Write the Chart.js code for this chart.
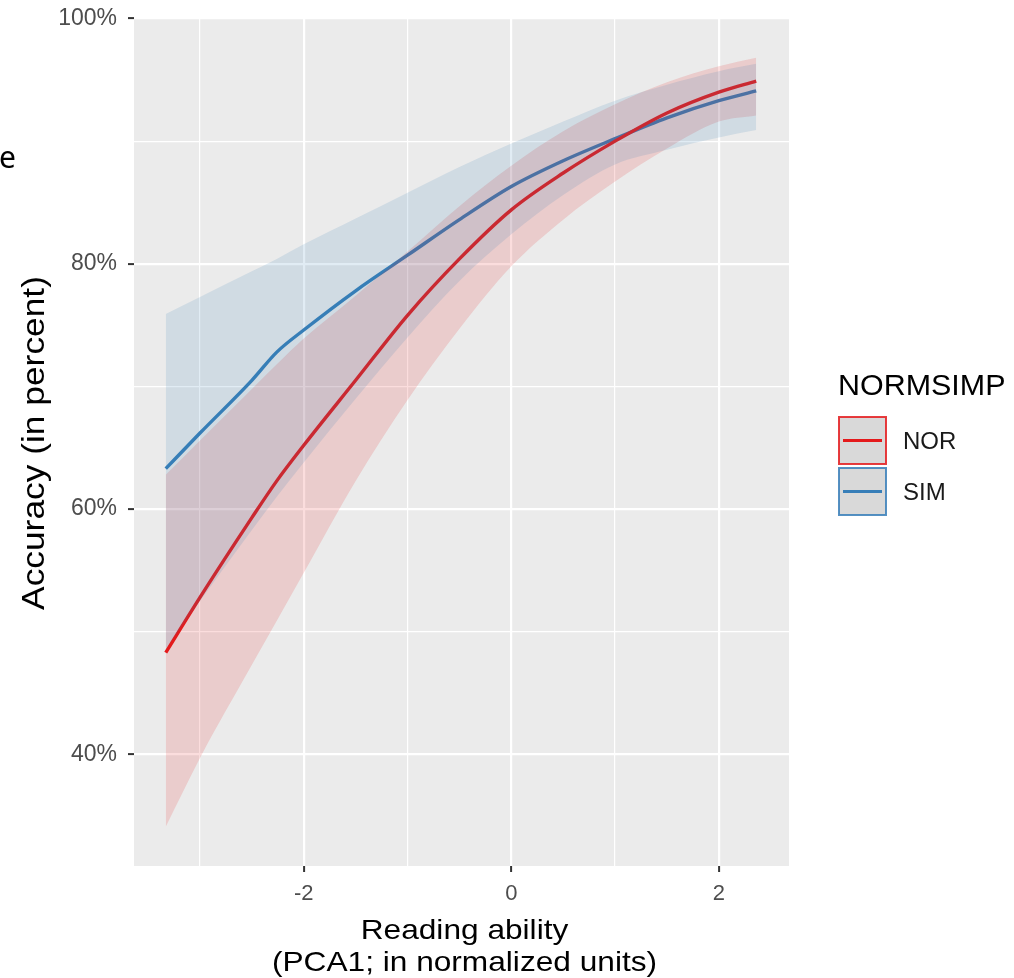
<!DOCTYPE html>
<html>
<head>
<meta charset="utf-8">
<title>Accuracy by reading ability</title>
<script src="https://cdn.jsdelivr.net/npm/chart.js@4/dist/chart.umd.min.js"></script>
<style>
  html, body { margin: 0; padding: 0; background: #fff; }
  canvas { display: block; }
</style>
</head>
<body>
<canvas id="chart" width="1014" height="978"></canvas>
<script>
const readingAbility = [-3.33, -3, -2.5, -2.26, -2, -1.5, -1, -0.5, 0, 0.5, 1, 1.5, 2, 2.36];

// NOR: fitted accuracy (%) and confidence band
const norFit   = [48.3, 52.8, 59.3, 62.3, 65.2, 70.5, 75.8, 80.4, 84.4, 87.4, 90.0, 92.3, 94.0, 94.9];
const norLower = [34.1, 39.7, 47.3, 50.9, 54.8, 62.3, 68.9, 74.7, 79.8, 83.6, 86.7, 89.4, 91.6, 92.1];
const norUpper = [62.8, 65.6, 69.8, 71.8, 73.9, 77.4, 81.0, 84.7, 88.0, 90.8, 93.0, 94.8, 96.1, 96.8];

// SIM: fitted accuracy (%) and confidence band
const simFit   = [63.3, 66.2, 70.5, 72.8, 74.6, 77.8, 80.7, 83.6, 86.3, 88.4, 90.2, 91.9, 93.3, 94.1];
const simLower = [48.6, 52.5, 58.3, 61.0, 63.8, 69.0, 74.0, 78.6, 82.4, 85.6, 88.1, 89.3, 90.3, 90.9];
const simUpper = [75.9, 77.3, 79.4, 80.4, 81.6, 83.7, 85.8, 87.9, 89.8, 91.6, 93.3, 94.6, 95.7, 96.3];

// ticks (labelled = major, blank = minor grid line)
const xTickValues = [-3, -2, -1, 0, 1, 2];
const xTickLabels = ['', '-2', '', '0', '', '2'];
const yTickValues = [40, 50, 60, 70, 80, 90, 100];
const yTickLabels = ['40%', '', '60%', '', '80%', '', '100%'];

const groups = ['NOR', 'SIM'];
const RED = '#E41A1C';
const BLUE = '#377EB8';

const FONT = "'Liberation Sans', Arial, Helvetica, sans-serif";
Chart.defaults.font.family = FONT;

const toPoints = (ys) => ys.map((y, i) => ({ x: readingAbility[i], y: y }));

function fitLine(label, ys, color) {
  return {
    label: label,
    data: toPoints(ys),
    borderColor: color,
    borderWidth: 3.4,
    pointRadius: 0,
    fill: false,
    cubicInterpolationMode: 'monotone',
    order: 5
  };
}

function bandEdge(label, ys, fillTo, color, order) {
  return {
    label: label,
    data: toPoints(ys),
    borderColor: 'rgba(0,0,0,0)',
    borderWidth: 0,
    pointRadius: 0,
    backgroundColor: color,
    fill: fillTo,
    cubicInterpolationMode: 'monotone',
    order: order
  };
}

// label text with optional horizontal stretch
function drawText(ctx, text, x, y, font, color, align, sx, rotate) {
  ctx.save();
  ctx.translate(x, y);
  if (rotate) ctx.rotate(rotate);
  ctx.scale(sx || 1, 1);
  ctx.font = font;
  ctx.fillStyle = color;
  ctx.textAlign = align;
  ctx.textBaseline = 'alphabetic';
  ctx.fillText(text, 0, 0);
  ctx.restore();
}

const ggDecor = {
  id: 'ggDecor',
  beforeDraw(chart) {
    const { ctx, chartArea: a } = chart;
    ctx.save();
    ctx.fillStyle = '#EBEBEB';
    ctx.fillRect(a.left, a.top, a.right - a.left, a.bottom - a.top);
    ctx.restore();
  },
  afterDraw(chart) {
    const ctx = chart.ctx;
    const a = chart.chartArea;
    const cx = (a.left + a.right) / 2;

    // axis titles
    drawText(ctx, 'Reading ability', cx + 3, 939, `28px ${FONT}`, '#000', 'center', 1.13);
    drawText(ctx, '(PCA1; in normalized units)', cx + 3, 971, `28px ${FONT}`, '#000', 'center', 1.13);
    drawText(ctx, 'Accuracy (in percent)', 44, 443, `31px ${FONT}`, '#000', 'center', 1.14, -Math.PI / 2);

    // legend
    drawText(ctx, 'NORMSIMP', 838, 395, `29px ${FONT}`, '#000', 'left', 1.05);
    const colors = [RED, BLUE];
    groups.forEach((g, i) => {
      const top = 417 + i * 51;
      ctx.save();
      ctx.fillStyle = '#D9D9D9';
      ctx.fillRect(839, top, 47, 47);
      ctx.lineWidth = 2;
      ctx.strokeStyle = colors[i];
      ctx.globalAlpha = 0.85;
      ctx.strokeRect(839, top, 47, 47);
      ctx.globalAlpha = 1;
      ctx.lineWidth = 3;
      ctx.beginPath();
      ctx.moveTo(843, top + 23.5);
      ctx.lineTo(882, top + 23.5);
      ctx.stroke();
      ctx.restore();
      drawText(ctx, g, 903, top + 32, `24px ${FONT}`, '#1A1A1A', 'left', 1);
    });

    // stray fragment of surrounding text at the left edge
    drawText(ctx, 'e', -1, 168, "30px 'Noto Sans', sans-serif", '#000', 'left', 1);
  }
};

const isMajorX = (v) => xTickLabels[xTickValues.indexOf(v)] !== '';
const isMajorY = (v) => yTickLabels[yTickValues.indexOf(v)] !== '';

new Chart(document.getElementById('chart'), {
  type: 'line',
  data: {
    datasets: [
      fitLine('NOR', norFit, RED),
      fitLine('SIM', simFit, BLUE),
      bandEdge('NOR lower', norLower, false, 'rgba(0,0,0,0)', 4),
      bandEdge('NOR upper', norUpper, 2, 'rgba(228,26,28,0.15)', 2),
      bandEdge('SIM lower', simLower, false, 'rgba(0,0,0,0)', 4),
      bandEdge('SIM upper', simUpper, 4, 'rgba(55,126,184,0.15)', 1)
    ]
  },
  options: {
    responsive: false,
    animation: false,
    devicePixelRatio: 1,
    layout: { padding: { left: 0, top: 18, right: 225, bottom: 0 } },
    plugins: {
      legend: { display: false },
      tooltip: { enabled: false }
    },
    scales: {
      x: {
        type: 'linear',
        min: -3.636,
        max: 2.676,
        afterBuildTicks: (scale) => { scale.ticks = xTickValues.map(v => ({ value: v })); },
        afterFit: (scale) => {
          scale.height = 112;
          scale.paddingLeft = 0;
          scale.paddingRight = 0;
        },
        border: { display: false },
        grid: {
          color: '#FFFFFF',
          lineWidth: (c) => (c.tick && isMajorX(c.tick.value) ? 2.2 : 1.2),
          tickColor: (c) => (c.tick && isMajorX(c.tick.value) ? '#333333' : 'rgba(0,0,0,0)'),
          tickWidth: 2,
          tickLength: 6
        },
        ticks: {
          color: '#4D4D4D',
          font: { size: 22 },
          padding: 9,
          maxRotation: 0,
          autoSkip: false,
          callback: (v) => xTickLabels[xTickValues.indexOf(v)] ?? ''
        }
      },
      y: {
        type: 'linear',
        min: 30.9,
        max: 100.04,
        afterBuildTicks: (scale) => { scale.ticks = yTickValues.map(v => ({ value: v })); },
        afterFit: (scale) => {
          scale.width = 134;
          scale.paddingTop = 0;
          scale.paddingBottom = 0;
        },
        border: { display: false },
        grid: {
          color: '#FFFFFF',
          lineWidth: (c) => (c.tick && isMajorY(c.tick.value) ? 2.2 : 1.2),
          tickColor: (c) => (c.tick && isMajorY(c.tick.value) ? '#333333' : 'rgba(0,0,0,0)'),
          tickWidth: 2,
          tickLength: 6
        },
        ticks: {
          color: '#4D4D4D',
          font: { size: 23 },
          padding: 11,
          autoSkip: false,
          callback: (v) => yTickLabels[yTickValues.indexOf(v)] ?? ''
        }
      }
    }
  },
  plugins: [ggDecor]
});
</script>
</body>
</html>
